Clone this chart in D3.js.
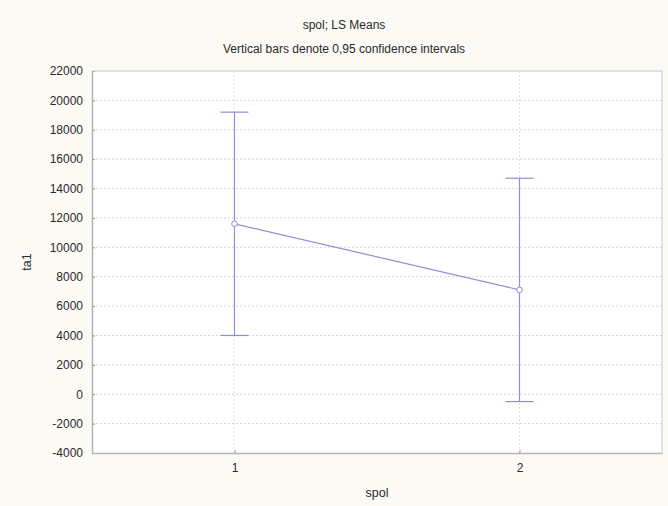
<!DOCTYPE html>
<html><head><meta charset="utf-8">
<script src="https://cdn.jsdelivr.net/npm/d3@7"></script>
<style>body{margin:0;background:#fbfaf5;}svg{display:block;font-family:"Liberation Sans",Arial,sans-serif;}</style>
</head><body>
<script>
const categories = [1, 2];
const means = [11600, 7100];
const upper = [19200, 14700];
const lower = [4000, -500];
const yTicks = [-4000,-2000,0,2000,4000,6000,8000,10000,12000,14000,16000,18000,20000,22000];

const W = 668, H = 506;
const m = {left: 92, right: 6, top: 71, bottom: 53};
const svg = d3.select("body").append("svg").attr("width", W).attr("height", H);
svg.append("rect").attr("width", W).attr("height", H).attr("fill", "#fbfaf5");

const x = d3.scaleLinear().domain([0.5, 2.5]).range([m.left, W - m.right]);
const y = d3.scaleLinear().domain([-4000, 22000]).range([H - m.bottom, m.top]);

svg.append("rect").attr("x", m.left).attr("y", m.top)
  .attr("width", W - m.left - m.right).attr("height", H - m.top - m.bottom)
  .attr("fill", "#ffffff");

// grid
svg.append("g").selectAll("line").data(yTicks.slice(1, -1)).join("line")
  .attr("x1", m.left).attr("x2", W - m.right)
  .attr("y1", d => y(d)).attr("y2", d => y(d))
  .attr("stroke", "#d6d6d6").attr("stroke-dasharray", "2,2");
svg.append("g").selectAll("line").data(categories).join("line")
  .attr("x1", d => x(d)).attr("x2", d => x(d))
  .attr("y1", m.top).attr("y2", H - m.bottom)
  .attr("stroke", "#e0e0e0").attr("stroke-dasharray", "2,2");

// axes
const yAxis = svg.append("g").attr("transform", `translate(${m.left},0)`)
  .call(d3.axisLeft(y).tickValues(yTicks).tickFormat(d => String(d)).tickSizeInner(-3).tickSizeOuter(0).tickPadding(9));
const xAxis = svg.append("g").attr("transform", `translate(0,${H - m.bottom})`)
  .call(d3.axisBottom(x).tickValues(categories).tickFormat(d => String(d)).tickSizeInner(-3).tickSizeOuter(0).tickPadding(10));
[yAxis, xAxis].forEach(g => {
  g.selectAll("path").attr("stroke", "#b5b5b5").attr("stroke-width", 1.5);
  g.selectAll("line").attr("stroke", "#999");
  g.selectAll("text").attr("fill", "#2a2a2a").attr("font-size", 12).attr("font-family", "Liberation Sans, Arial, sans-serif");
});
// top and right borders
svg.append("line").attr("x1", m.left).attr("x2", W - m.right).attr("y1", m.top).attr("y2", m.top).attr("stroke", "#c8c8c8");
svg.append("line").attr("x1", W - m.right).attr("x2", W - m.right).attr("y1", m.top).attr("y2", H - m.bottom).attr("stroke", "#c8c8c8");

const col = "#8e8ed8";
// error bars
const eb = svg.append("g");
eb.selectAll(".v").data(categories).join("line")
  .attr("x1", d => x(d)).attr("x2", d => x(d))
  .attr("y1", (d, i) => y(upper[i])).attr("y2", (d, i) => y(lower[i]))
  .attr("stroke", col).attr("stroke-width", 1.2);
[upper, lower].forEach(arr => {
  eb.append("g").selectAll("line").data(categories).join("line")
    .attr("x1", d => x(d) - 14).attr("x2", d => x(d) + 14)
    .attr("y1", (d, i) => y(arr[i])).attr("y2", (d, i) => y(arr[i]))
    .attr("stroke", col).attr("stroke-width", 1.2);
});
// mean line
svg.append("path").datum(categories.map((c, i) => [c, means[i]]))
  .attr("d", d3.line().x(d => x(d[0])).y(d => y(d[1])))
  .attr("fill", "none").attr("stroke", col).attr("stroke-width", 1.2);
svg.append("g").selectAll("circle").data(categories).join("circle")
  .attr("cx", d => x(d)).attr("cy", (d, i) => y(means[i])).attr("r", 2.8)
  .attr("fill", "#fff").attr("stroke", col).attr("stroke-width", 1);

// titles
svg.append("text").attr("x", 344).attr("y", 29).attr("text-anchor", "middle")
  .attr("font-size", 12).attr("fill", "#2a2a2a").text("spol; LS Means");
svg.append("text").attr("x", 344).attr("y", 53).attr("text-anchor", "middle")
  .attr("font-size", 12).attr("fill", "#2a2a2a").text("Vertical bars denote 0,95 confidence intervals");
svg.append("text").attr("x", (m.left + W - m.right) / 2).attr("y", 497).attr("text-anchor", "middle")
  .attr("font-size", 12.5).attr("fill", "#2a2a2a").text("spol");
svg.append("text").attr("transform", `translate(31,${(m.top + H - m.bottom) / 2}) rotate(-90)`)
  .attr("text-anchor", "middle").attr("font-size", 12.5).attr("fill", "#2a2a2a").text("ta1");
</script>
</body></html>
